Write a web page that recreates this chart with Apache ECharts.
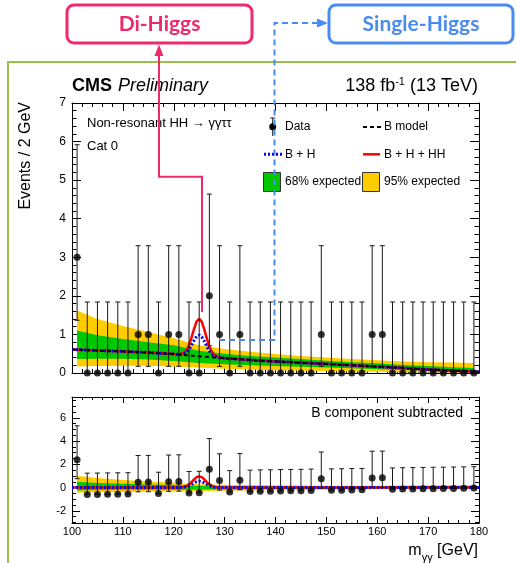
<!DOCTYPE html>
<html>
<head>
<meta charset="utf-8">
<script src="https://cdn.jsdelivr.net/npm/echarts@6/dist/echarts.min.js"></script>
<style>
html,body{margin:0;padding:0;background:#fff;}
#c{width:516px;height:563px;}
</style>
</head>
<body>
<div id="c"></div>
<script>
// ---- diphoton mass spectrum, Cat 0 ----
const binCenters = [101,103,105,107,109,111,113,115,117,119,121,123,125,127,129,131,133,135,137,139,
                    141,143,145,147,149,151,153,155,157,159,161,163,165,167,169,171,173,175,177,179];
const dataCounts = [3,0,0,0,0,0,1,1,0,1,1,0,0,2,1,0,1,0,0,0,
                    0,0,0,0,1,0,0,0,0,1,1,0,0,0,0,0,0,0,0,0];
// data after subtracting the background model (lower panel)
const dataResidual = [2.40,-0.60,-0.59,-0.58,-0.57,-0.56,0.46,0.47,-0.52,0.50,0.52,-0.46,-0.44,1.58,0.61,-0.38,0.64,-0.34,-0.32,-0.31,
                      -0.29,-0.28,-0.27,-0.25,0.76,-0.23,-0.22,-0.20,-0.19,0.83,0.84,-0.15,-0.13,-0.12,-0.11,-0.09,-0.08,-0.07,-0.06,-0.04];
// Garwood 68% interval edges, indexed by observed count
const poissonLowEdge  = [0, 0.173, 0.708, 1.367];
const poissonHighEdge = [1.841, 3.300, 4.638, 5.918];

// model curves
const massGrid = [100,101,105,110,115,120,121,122,122.5,123,123.5,124,124.5,125,125.5,126,126.5,127,127.5,128,129,130,
                  135,140,145,150,155,160,165,170,175,179,180];
const bModel   = [0.61,0.605,0.585,0.56,0.53,0.49,0.475,0.465,0.46,0.455,0.45,0.445,0.44,0.435,0.43,0.425,0.42,0.415,0.41,0.405,0.395,0.385,
                  0.335,0.30,0.265,0.235,0.20,0.165,0.13,0.09,0.06,0.04,0.035];
const hSignal  = [0,0,0,0,0,0,0.004,0.03,0.075,0.15,0.27,0.40,0.51,0.55,0.51,0.40,0.27,0.15,0.075,0.03,0.004,0,
                  0,0,0,0,0,0,0,0,0,0,0];
const hhSignal = [0,0,0,0,0,0,0.003,0.025,0.057,0.117,0.205,0.305,0.39,0.42,0.39,0.305,0.205,0.117,0.057,0.025,0.003,0,
                  0,0,0,0,0,0,0,0,0,0,0];

// expected-background uncertainty bands
const bandMass  = [101,105,110,115,120,125,130,135,140,145,150,155,160,165,170,175,179];
const band95Lo  = [0.17,0.18,0.19,0.19,0.17,0.14,0.11,0.09,0.07,0.06,0.05,0.04,0.03,0.02,0.01,0.0,0.0];
const band68Lo  = [0.36,0.37,0.37,0.35,0.31,0.26,0.23,0.20,0.18,0.16,0.14,0.12,0.10,0.08,0.05,0.03,0.02];
const band68Hi  = [1.10,0.98,0.88,0.80,0.72,0.58,0.50,0.44,0.40,0.36,0.32,0.28,0.25,0.21,0.18,0.15,0.13];
const band95Hi  = [1.62,1.40,1.22,1.06,0.90,0.72,0.62,0.55,0.49,0.44,0.40,0.36,0.33,0.30,0.28,0.27,0.26];

const xTicks = [100,110,120,130,140,150,160,170,180];
const yTicksTop = [0,1,2,3,4,5,6,7];
const yTicksBottom = [-2,0,2,4,6];

// ---- derived series ----
const bAtBand = bandMass.map(m => bModel[massGrid.indexOf(m)]);
const sub = (a, b) => a.map((v, i) => +(v - b[i]).toFixed(4));
const bPlusH = bModel.map((v, i) => v + hSignal[i]);
const bPlusHplusHH = bModel.map((v, i) => v + hSignal[i] + hhSignal[i]);
const hOnly = hSignal.slice();
const hPlusHH = hSignal.map((v, i) => v + hhSignal[i]);
const pairs = (xs, ys) => xs.map((x, i) => [x, ys[i]]);

const topBars = binCenters.map((x, i) => [x, poissonLowEdge[dataCounts[i]], poissonHighEdge[dataCounts[i]]]);
const botBars = binCenters.map((x, i) => {
  const n = dataCounts[i], r = dataResidual[i];
  return [x, r - (n - poissonLowEdge[n]), r + (poissonHighEdge[n] - n)];
});

const FONT = '"Liberation Sans", Arial, Helvetica, sans-serif';
const GREEN = '#00c800', YELLOW = '#ffcc00';
const PINK = '#ee2a6c', BLUE = '#4a8bf0', FRAME = '#9bc04a';

function bandSeries(xs, lo, hi, color, gi) {
  return {
    type: 'custom', xAxisIndex: gi * 2, yAxisIndex: gi === 0 ? 0 : 2, z: 1, silent: true, clip: true,
    data: [[xs[0], lo[0]]],
    renderItem(params, api) {
      const pts = [];
      for (let i = 0; i < xs.length; i++) pts.push(api.coord([xs[i], hi[i]]));
      for (let i = xs.length - 1; i >= 0; i--) pts.push(api.coord([xs[i], lo[i]]));
      return { type: 'polygon', shape: { points: pts }, style: { fill: color } };
    }
  };
}
function lineSeries(ys, color, width, dash, gi, z) {
  return {
    type: 'line', xAxisIndex: gi * 2, yAxisIndex: gi === 0 ? 0 : 2, z: z, silent: true,
    data: pairs(massGrid, ys), showSymbol: false, symbol: 'none', clip: true,
    lineStyle: { color: color, width: width, type: dash }
  };
}
function errorBarSeries(bars, gi) {
  return {
    type: 'custom', xAxisIndex: gi * 2, yAxisIndex: gi === 0 ? 0 : 2, z: 8, silent: true, clip: true,
    data: bars, encode: { x: 0, y: [1, 2] },
    renderItem(params, api) {
      const x = api.value(0);
      const a = api.coord([x, api.value(2)]), b = api.coord([x, api.value(1)]);
      const st = { stroke: '#1a1a1a', lineWidth: 1 };
      return { type: 'group', children: [
        { type: 'line', shape: { x1: a[0], y1: a[1], x2: b[0], y2: b[1] }, style: st },
        { type: 'line', shape: { x1: a[0] - 2.5, y1: a[1], x2: a[0] + 2.5, y2: a[1] }, style: st },
        { type: 'line', shape: { x1: b[0] - 2.5, y1: b[1], x2: b[0] + 2.5, y2: b[1] }, style: st }
      ]};
    }
  };
}
function pointSeries(ys, gi) {
  return {
    type: 'scatter', xAxisIndex: gi * 2, yAxisIndex: gi === 0 ? 0 : 2, z: 9, silent: true,
    data: pairs(binCenters, ys), symbol: 'circle', symbolSize: 7,
    itemStyle: { color: '#000' }
  };
}

function xAxis(gi, pos, showLabel, tickLen, minorLen) {
  return {
    type: 'value', gridIndex: gi, position: pos, min: 100, max: 180, interval: 10,
    axisLine: { show: true, onZero: false, lineStyle: { color: '#000', width: 1 } },
    axisTick: { show: true, inside: true, length: tickLen, lineStyle: { color: '#000' } },
    minorTick: { show: true, splitNumber: 5, length: minorLen, lineStyle: { color: '#000' } },
    axisLabel: { show: showLabel, color: '#000', fontFamily: FONT, fontSize: 11, margin: 3,
                 customValues: xTicks },
    splitLine: { show: false }, minorSplitLine: { show: false }
  };
}
function yAxisTop(pos, showLabel) {
  return {
    type: 'value', gridIndex: 0, position: pos, min: 0, max: 7, interval: 1,
    axisLine: { show: true, onZero: false, lineStyle: { color: '#000', width: 1 } },
    axisTick: { show: true, inside: true, length: 9, lineStyle: { color: '#000' } },
    minorTick: { show: true, splitNumber: 5, length: 4.5, lineStyle: { color: '#000' } },
    axisLabel: { show: showLabel, color: '#000', fontFamily: FONT, fontSize: 12, margin: 6,
                 customValues: yTicksTop },
    splitLine: { show: false }, minorSplitLine: { show: false }
  };
}
const minorBottom = [];
for (const v of [-3,-2.5,-1.5,-1,-0.5,0.5,1,1.5,2.5,3,3.5,4.5,5,5.5,6.5,7,7.5]) minorBottom.push(v);
function yAxisBottom(pos, showLabel, minor) {
  return {
    type: 'value', gridIndex: 1, position: pos, min: -3.05, max: 7.8,
    axisLine: { show: !minor, onZero: false, lineStyle: { color: '#000', width: 1 } },
    axisTick: { show: true, inside: true, length: minor ? 4 : 8, lineStyle: { color: '#000' },
                customValues: minor ? minorBottom : yTicksBottom },
    axisLabel: { show: showLabel, color: '#000', fontFamily: FONT, fontSize: 11, margin: 6,
                 customValues: yTicksBottom },
    splitLine: { show: false }
  };
}

const chart = echarts.init(document.getElementById('c'), null, { renderer: 'canvas', width: 516, height: 563 });

// text measurement for hand-placed composite labels
const mctx = document.createElement('canvas').getContext('2d');
function tw(str, font) { mctx.font = font; return mctx.measureText(str).width; }

const fBig = '18px ' + FONT, fSup = '11px ' + FONT;
const lumiParts = [['138 fb', fBig, 86], ['-1', fSup, 81.5], [' (13 TeV)', fBig, 86]];
const axParts = [['m', '16px ' + FONT, 551], ['\u03b3\u03b3', '11px ' + FONT, 558], [' [GeV]', '16px ' + FONT, 551]];
function rightAligned(parts, xRight) {
  const total = parts.reduce((s, p) => s + tw(p[0], p[1]), 0);
  let x = xRight - total;
  return parts.map(p => {
    const el = { type: 'text', x: x, y: p[2], z: 50,
      style: { text: p[0], font: p[1], fill: '#000', align: 'left', verticalAlign: 'middle',
               textAlign: 'left', textVerticalAlign: 'middle' } };
    x += tw(p[0], p[1]);
    return el;
  });
}
function txt(str, x, y, font, opts) {
  return Object.assign({ type: 'text', x: x, y: y, z: 50,
    style: { text: str, font: font, fill: (opts && opts.fill) || '#000',
             align: (opts && opts.align) || 'left', verticalAlign: 'middle',
             textAlign: (opts && opts.align) || 'left', textVerticalAlign: 'middle' } },
    (opts && opts.extra) || {});
}

const f13 = '13px ' + FONT;
const fLeg = '12px ' + FONT;
const graphics = [
  // outer frame
  { type: 'rect', z: 40, shape: { x: 8, y: 62, width: 620, height: 600 }, style: { fill: 'none', stroke: FRAME, lineWidth: 2 } },
  // header
  txt('CMS', 72, 86, 'bold 18px ' + FONT),
  txt('Preliminary', 72 + tw('CMS ', 'bold 18px ' + FONT) + 1, 86, 'italic 18px ' + FONT),
  ...rightAligned(lumiParts, 478),
  // y title
  txt('Events / 2 GeV', 26, 102, '16px ' + FONT, { align: 'right', extra: { rotation: Math.PI / 2 } }),
  // x title
  ...rightAligned(axParts, 478),
  // panel annotations
  txt('Non-resonant HH \u2192 \u03b3\u03b3\u03c4\u03c4', 87, 123, f13),
  txt('Cat 0', 87, 146, f13),
  txt('B component subtracted', 463, 413, '14px ' + FONT, { align: 'right' }),
  // legend
  { type: 'line', z: 50, shape: { x1: 272.7, y1: 118, x2: 272.7, y2: 136 }, style: { stroke: '#1a1a1a', lineWidth: 1 } },
  { type: 'line', z: 50, shape: { x1: 270.2, y1: 118, x2: 275.2, y2: 118 }, style: { stroke: '#1a1a1a', lineWidth: 1 } },
  { type: 'circle', z: 51, shape: { cx: 272.7, cy: 126.7, r: 3.5 }, style: { fill: '#000' } },
  txt('Data', 285, 127, fLeg),
  { type: 'line', z: 50, shape: { x1: 363, y1: 127, x2: 382, y2: 127 }, style: { stroke: '#000', lineWidth: 2, lineDash: [4, 3] } },
  txt('B model', 384, 127, fLeg),
  { type: 'line', z: 50, shape: { x1: 264, y1: 154.3, x2: 282, y2: 154.3 }, style: { stroke: '#0000ff', lineWidth: 3, lineDash: [2, 2] } },
  txt('B + H', 285, 154.5, fLeg),
  { type: 'line', z: 50, shape: { x1: 363, y1: 154.3, x2: 380, y2: 154.3 }, style: { stroke: '#ff0000', lineWidth: 2.5 } },
  txt('B + H + HH', 384, 154.5, fLeg),
  { type: 'rect', z: 50, shape: { x: 263.5, y: 172.5, width: 17, height: 19 }, style: { fill: GREEN, stroke: '#333', lineWidth: 1 } },
  txt('68% expected', 285, 182, fLeg),
  { type: 'rect', z: 50, shape: { x: 362.5, y: 172.5, width: 17, height: 19 }, style: { fill: YELLOW, stroke: '#333', lineWidth: 1 } },
  txt('95% expected', 384, 182, fLeg),
  // Di-Higgs callout
  { type: 'rect', z: 60, shape: { x: 67, y: 5, width: 185, height: 38, r: 7 }, style: { fill: '#fff', stroke: PINK, lineWidth: 3 } },
  txt('Di-Higgs', 159.5, 24.5, 'bold 21px Lato, ' + FONT, { align: 'center', fill: PINK, extra: { z: 61 } }),
  { type: 'polyline', z: 60, shape: { points: [[202, 312], [202, 176.7], [159, 176.7], [159, 54]] }, style: { fill: 'none', stroke: PINK, lineWidth: 2 } },
  { type: 'polygon', z: 60, shape: { points: [[159, 44.5], [154.5, 56], [163.5, 56]] }, style: { fill: PINK } },
  // Single-Higgs callout
  { type: 'rect', z: 60, shape: { x: 329, y: 5, width: 184, height: 38, r: 7 }, style: { fill: '#fff', stroke: BLUE, lineWidth: 3 } },
  txt('Single-Higgs', 421, 24.5, 'bold 21px Lato, ' + FONT, { align: 'center', fill: BLUE, extra: { z: 61 } }),
  { type: 'polyline', z: 60, shape: { points: [[219, 340], [274.5, 340], [274.5, 23], [318, 23]] }, style: { fill: 'none', stroke: BLUE, lineWidth: 2, lineDash: [6, 4] } },
  { type: 'polygon', z: 60, shape: { points: [[328, 23], [317, 18.5], [317, 27.5]] }, style: { fill: BLUE } }
];

chart.setOption({
  animation: false,
  backgroundColor: '#fff',
  grid: [
    { left: 72, top: 103, width: 407, height: 270, containLabel: false, outerBoundsMode: 'none' },
    { left: 72, top: 397, width: 407, height: 126, containLabel: false, outerBoundsMode: 'none' }
  ],
  xAxis: [
    xAxis(0, 'bottom', false, 8, 4),
    xAxis(0, 'top', false, 8, 4),
    xAxis(1, 'bottom', true, 6, 3),
    xAxis(1, 'top', false, 6, 3)
  ],
  yAxis: [
    yAxisTop('left', true),
    yAxisTop('right', false),
    yAxisBottom('left', true, false),
    yAxisBottom('left', false, true),
    yAxisBottom('right', false, false),
    yAxisBottom('right', false, true)
  ],
  series: [
    // upper panel
    bandSeries(bandMass, band95Lo, band95Hi, YELLOW, 0),
    bandSeries(bandMass, band68Lo, band68Hi, GREEN, 0),
    lineSeries(bPlusHplusHH, '#ff0000', 2.5, 'solid', 0, 3),
    lineSeries(bPlusH, '#0000ff', 3, [2, 2], 0, 4),
    lineSeries(bModel, '#000000', 2, [4, 3], 0, 5),
    errorBarSeries(topBars, 0),
    pointSeries(dataCounts, 0),
    // lower panel
    bandSeries(bandMass, sub(band95Lo, bAtBand), sub(band95Hi, bAtBand), YELLOW, 1),
    bandSeries(bandMass, sub(band68Lo, bAtBand), sub(band68Hi, bAtBand), GREEN, 1),
    lineSeries(hPlusHH, '#ff0000', 2.5, 'solid', 1, 3),
    lineSeries(hOnly, '#0000ff', 3, [2, 2], 1, 4),
    errorBarSeries(botBars, 1),
    pointSeries(dataResidual, 1)
  ],
  graphic: { elements: graphics }
});
</script>
</body>
</html>
